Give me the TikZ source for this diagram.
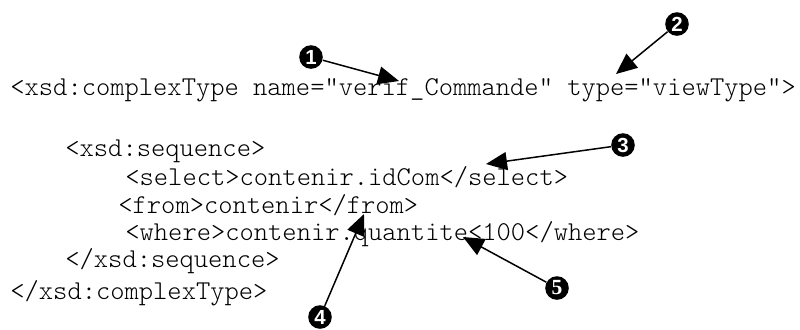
\documentclass[tikz,border=0pt]{standalone}
\usepackage{fontspec}
\setmonofont{Latin Modern Mono Light}
\newfontfamily\marksans{Liberation Sans}
\newfontfamily\markserif{Liberation Serif}
\usetikzlibrary{arrows.meta}
\begin{document}
\begin{tikzpicture}[x=0.5pt,y=-0.5pt,
  code/.style={anchor=base west,inner sep=0pt,
    font=\ttfamily\fontsize{13.6pt}{16pt}\selectfont},
  callout/.style={circle,fill=black,inner sep=0pt,minimum size=11.8pt,
    text=white,font=\marksans\bfseries\fontsize{10.2pt}{9pt}\selectfont},
  arr/.style={line width=0.75pt,-{Triangle[length=10.5pt,width=9pt]}}]
\useasboundingbox (0,0) rectangle (800,329);
% listing
\node[code] (l1) at (10,95)  {<xsd:complexType name="verif\_Commande" type="viewType">};
\node[code] (l2) at (65,156) {<xsd:sequence>};
\node[code] (l3) at (125,185) {<select>contenir.idCom</select>};
\node[code] (l4) at (118,213) {<from>contenir</from>};
\node[code] (l5) at (125,240) {<where>contenir.quantite<100</where>};
\node[code] (l6) at (65,267) {</xsd:sequence>};
\node[code] (l7) at (10,299) {</xsd:complexType>};
% numbered callouts
\node[callout] (m1) at (311,57) {1};
\node[callout] (m2) at (677,24) {2};
\node[callout] (m3) at (623,145) {3};
\node[callout] (m4) at (320,317) {4};
\node[callout,font=\markserif\bfseries\fontsize{10.8pt}{9pt}\selectfont] (m5) at (557,288) {5};
% arrow targets
\coordinate (t1) at (399,81);
\coordinate (t2) at (616,74);
\coordinate (t3) at (486,164);
\coordinate (t4) at (364,214);
\coordinate (t5) at (463,237);
\draw[arr] (m1) -- (t1);
\draw[arr] (m2) -- (t2);
\draw[arr] (m3) -- (t3);
\draw[arr] (m4) -- (t4);
\draw[arr] (m5) -- (t5);
\end{tikzpicture}
\end{document}
